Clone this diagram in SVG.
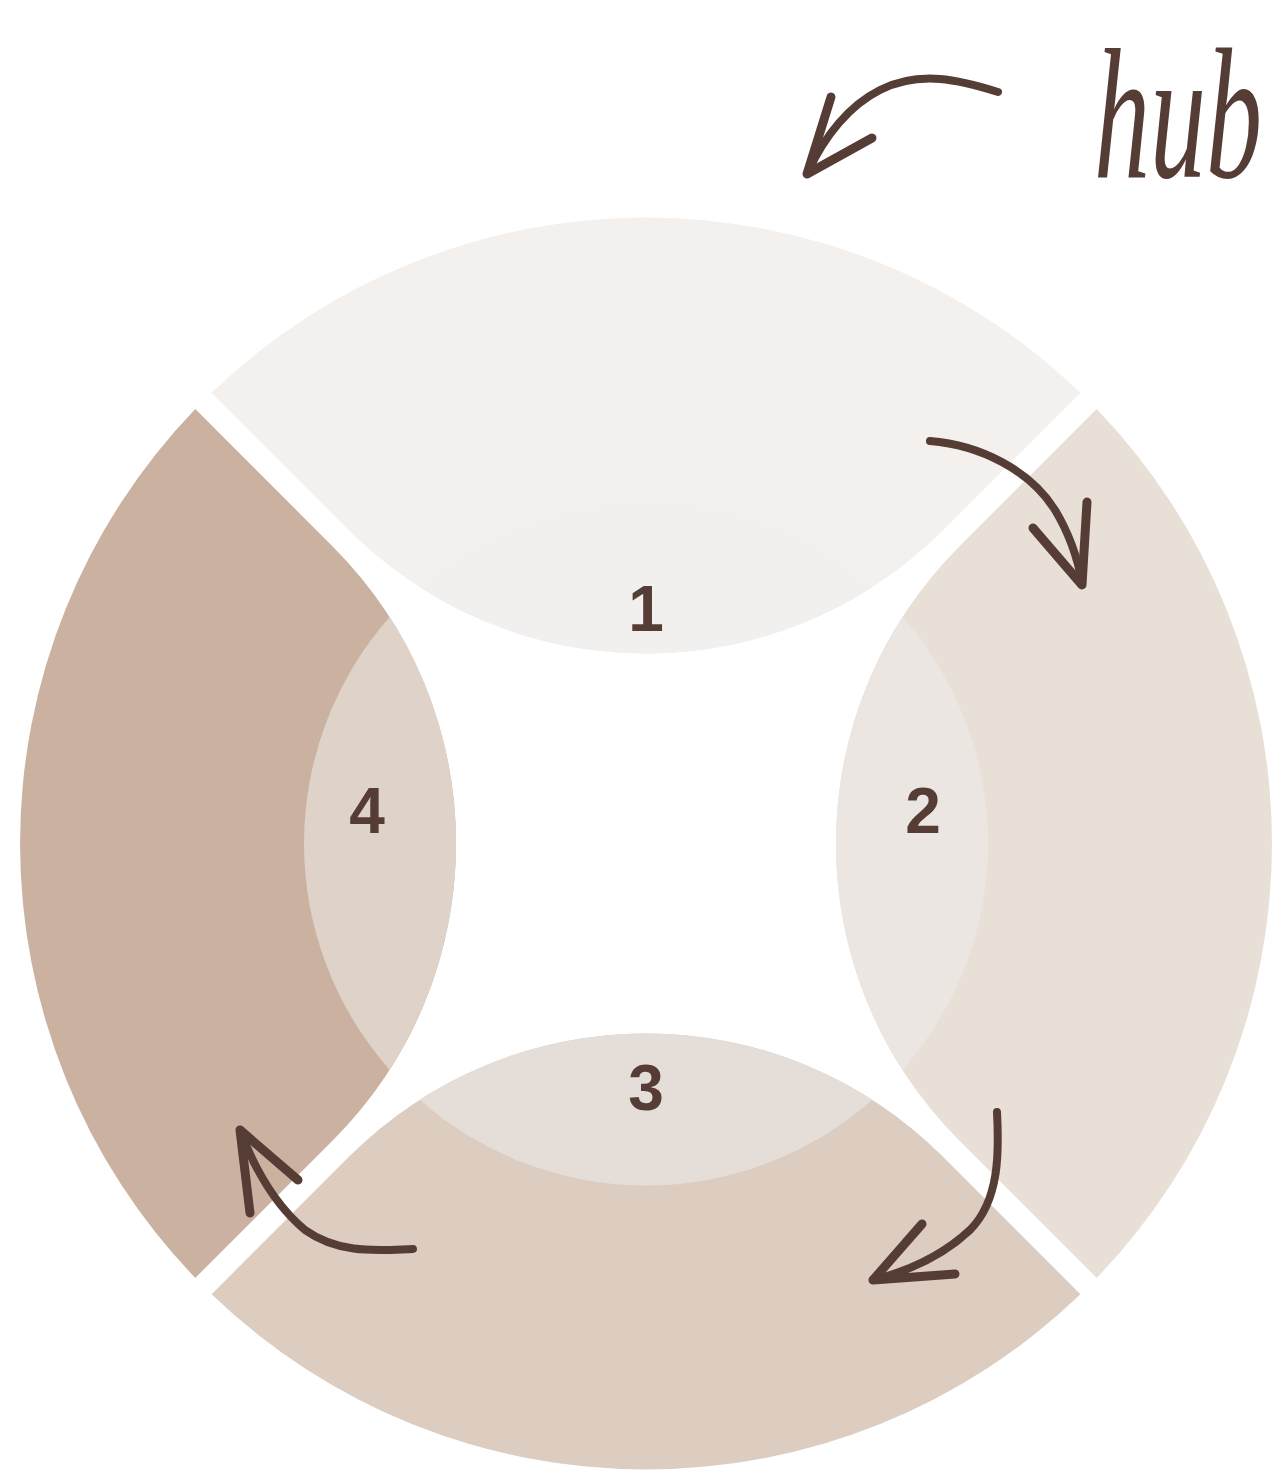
<svg xmlns="http://www.w3.org/2000/svg" xmlns:xlink="http://www.w3.org/1999/xlink" width="1276" height="1471" viewBox="0 0 1276 1471">
<style>
.num{font-family:"Liberation Sans","Arial",sans-serif;font-weight:bold;font-size:64px;fill:#553D36;text-anchor:middle}
.hub{font-family:"Liberation Serif","Times New Roman",serif;font-style:italic;font-size:118px;fill:#553D36}
.ar{fill:none;stroke:#553D36;stroke-width:8;stroke-linecap:round;stroke-linejoin:round}
.hd{fill:none;stroke:#553D36;stroke-width:9;stroke-linecap:round;stroke-linejoin:round}
</style>
<defs>
<path id="q" d="M312.83,-296.57 L450.7,-434.4 A626,626 0 0 1 450.7,434.4 L312.83,296.57 A419.4,419.4 0 0 1 312.83,-296.57 Z"/>
<path id="l" d="M256.3,-226.4 A342,342 0 0 1 256.3,226.4 A419.4,419.4 0 0 1 256.3,-226.4 Z"/>
</defs>
<rect width="1276" height="1471" fill="#ffffff"/>
<g id="node-1">
<use xlink:href="#q" href="#q" transform="translate(646,843.5) rotate(-90)" fill="#F4F0ED"/>
<use xlink:href="#l" href="#l" transform="translate(646,843.5) rotate(-90)" fill="#F2F0EE"/>
<text class="num" x="646" y="631">1</text>
</g>
<g id="node-2">
<use xlink:href="#q" href="#q" transform="translate(646,843.5)" fill="#E8DFD7"/>
<use xlink:href="#l" href="#l" transform="translate(646,843.5)" fill="#EBE6E2"/>
<text class="num" x="923" y="833">2</text>
</g>
<g id="node-3">
<use xlink:href="#q" href="#q" transform="translate(646,843.5) rotate(90)" fill="#DCCDC0"/>
<use xlink:href="#l" href="#l" transform="translate(646,843.5) rotate(90)" fill="#E4DDD8"/>
<text class="num" x="646" y="1110">3</text>
</g>
<g id="node-4">
<use xlink:href="#q" href="#q" transform="translate(646,843.5) rotate(180)" fill="#CBB2A0"/>
<use xlink:href="#l" href="#l" transform="translate(646,843.5) rotate(180)" fill="#DED2C9"/>
<text class="num" x="367" y="833">4</text>
</g>
<g id="node-hub">
<text class="hub" x="0" y="0" transform="translate(1094,177) scale(0.95,1.58)">hub</text>
</g>
<g id="connectors">
<path class="ar" d="M998,92 C960,80 920,70 880,90 C850,105 825,135 808,172"/>
<path class="hd" d="M831,97 L807,174 L872,138"/>
<path class="ar" d="M930,441 C980,445 1030,470 1055,510 C1070,535 1078,560 1082,583"/>
<path class="hd" d="M1087,502 L1082,585 L1033,528"/>
<path class="ar" d="M997,1112 C999,1150 1000,1200 970,1230 C940,1258 905,1272 873,1280"/>
<path class="hd" d="M922,1224 L873,1280 L955,1274"/>
<path class="ar" d="M413,1249 C380,1250 340,1255 305,1230 C275,1205 255,1170 240,1130"/>
<path class="hd" d="M250,1213 L240,1130 L298,1180"/>
</g>
</svg>
